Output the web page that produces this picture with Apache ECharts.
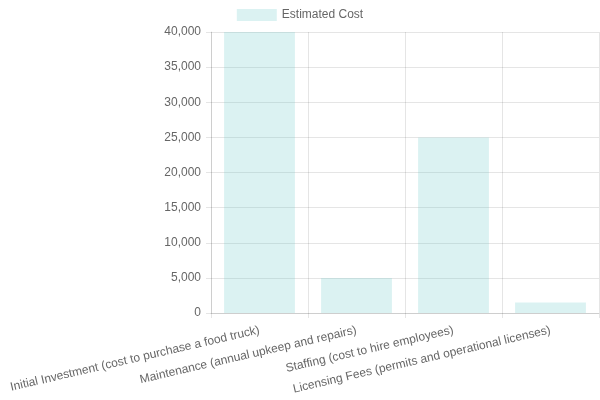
<!DOCTYPE html>
<html>
<head>
<meta charset="utf-8">
<script src="https://cdn.jsdelivr.net/npm/echarts@6/dist/echarts.min.js"></script>
<style>html,body{margin:0;padding:0;background:#fff}#c{width:600px;height:400px}</style>
</head>
<body>
<div id="c"></div>
<script>
const categories = [
  "Initial Investment (cost to purchase a food truck)",
  "Maintenance (annual upkeep and repairs)",
  "Staffing (cost to hire employees)",
  "Licensing Fees (permits and operational licenses)"
];
const estimatedCost = [40000, 5000, 25000, 1500];
const seriesName = "Estimated Cost";

const chart = echarts.init(document.getElementById('c'), null, {renderer: 'canvas'});
chart.setOption({
  animation: false,
  textStyle: {fontFamily: 'Liberation Sans, Arial, sans-serif'},
  legend: {
    top: 4, left: 'center',
    itemWidth: 40, itemHeight: 12, itemGap: 10,
    icon: 'rect',
    itemStyle: {borderWidth: 0},
    textStyle: {color: '#666', fontSize: 12},
    data: [seriesName]
  },
  grid: {left: 211, right: 1, top: 32, bottom: 87, containLabel: false},
  xAxis: {
    type: 'category',
    data: categories,
    axisLine: {show: true, lineStyle: {color: 'rgba(0,0,0,0.1)'}},
    axisTick: {show: true, length: 5, lineStyle: {color: 'rgba(0,0,0,0.1)'}},
    splitLine: {show: true, lineStyle: {color: 'rgba(0,0,0,0.1)'}},
    axisLabel: {rotate: 13, color: '#666', fontSize: 12, margin: 17, interval: 0}
  },
  yAxis: {
    type: 'value',
    min: 0, max: 40000, interval: 5000,
    axisLine: {show: true, lineStyle: {color: 'rgba(0,0,0,0.1)'}},
    axisTick: {show: true, length: 5, lineStyle: {color: 'rgba(0,0,0,0.1)'}},
    splitLine: {show: true, lineStyle: {color: 'rgba(0,0,0,0.1)'}},
    axisLabel: {color: '#666', fontSize: 12, margin: 10,
      formatter: v => v.toLocaleString('en-US')}
  },
  series: [{
    name: seriesName,
    type: 'bar',
    data: estimatedCost,
    barCategoryGap: '27%',
    itemStyle: {color: 'rgba(75,192,192,0.2)', borderWidth: 0}
  }]
});
</script>
</body>
</html>
